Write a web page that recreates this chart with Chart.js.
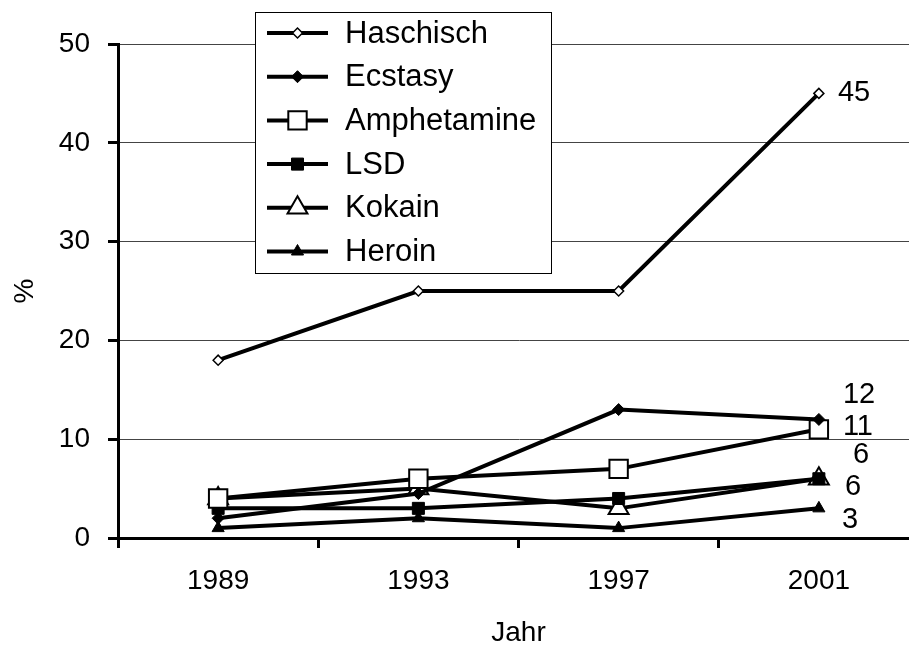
<!DOCTYPE html>
<html>
<head>
<meta charset="utf-8">
<script src="https://cdn.jsdelivr.net/npm/chart.js@4/dist/chart.umd.min.js"></script>
<style>
  html, body { margin: 0; padding: 0; background: #fff; overflow: hidden; }
  canvas { display: block; }
</style>
</head>
<body>
<canvas id="drugChart" width="934" height="650"></canvas>
<script>
(function(Chart){

    var years = ['1989', '1993', '1997', '2001'];

    var haschisch   = [18, 25, 25, 45];
    var ecstasy     = [2, 4.5, 13, 12];
    var amphetamine = [4, 6, 7, 11];
    var lsd         = [3, 3, 4, 6];
    var kokain      = [4, 5, 3, 6];
    var heroin      = [1, 2, 1, 3];

    var yTicks = [0, 10, 20, 30, 40, 50];

    var FONT = '"Liberation Sans", Arial, sans-serif';

    function series(label, data, style, radius, filled, borderWidth) {
        return {
            label: label,
            data: data,
            borderColor: '#000',
            borderWidth: 4,
            pointStyle: style,
            pointRadius: radius,
            pointHoverRadius: radius,
            pointBackgroundColor: filled ? '#000' : '#fff',
            pointBorderColor: '#000',
            pointBorderWidth: borderWidth,
            tension: 0
        };
    }

    var datasets = [
        series('Haschisch', haschisch, 'rectRot', 5, false, 1.5),
        series('Ecstasy', ecstasy, 'rectRot', 6, true, 1),
        series('Amphetamine', amphetamine, 'rect', 13, false, 2),
        series('LSD', lsd, 'rect', 8.5, true, 1),
        series('Kokain', kokain, 'triangle', 11.5, false, 2),
        series('Heroin', heroin, 'triangle', 7, true, 1)
    ];

    // where the value of the 2001 point gets written, relative to the point
    var endLabelShift = [
        { dx: 19, dy: 0 },
        { dx: 24, dy: -24 },
        { dx: 24, dy: -2 },
        { dx: 34, dy: -24 },
        { dx: 26, dy: 8 },
        { dx: 23, dy: 12 }
    ];

    var endLabels = {
        id: 'endLabels',
        afterDatasetsDraw: function(chart) {
            var ctx = chart.ctx;
            ctx.save();
            ctx.font = '29px ' + FONT;
            ctx.fillStyle = '#000';
            ctx.textAlign = 'left';
            ctx.textBaseline = 'middle';
            chart.data.datasets.forEach(function(ds, i) {
                var meta = chart.getDatasetMeta(i);
                var last = meta.data[meta.data.length - 1];
                var shift = endLabelShift[i];
                ctx.fillText(String(ds.data[ds.data.length - 1]), last.x + shift.dx, last.y + shift.dy);
            });
            ctx.restore();
        }
    };

    // boxed legend sitting over the upper left of the plot
    var boxLegend = {
        id: 'boxLegend',
        afterDraw: function(chart) {
            var ctx = chart.ctx;
            var left = 255, top = 12, width = 296, height = 261;
            var rowTop = 33, rowGap = 43.7;
            ctx.save();
            ctx.fillStyle = '#fff';
            ctx.fillRect(left, top, width, height);
            ctx.strokeStyle = '#000';
            ctx.lineWidth = 1;
            ctx.strokeRect(left + 0.5, top + 0.5, width, height);

            chart.data.datasets.forEach(function(ds, i) {
                var y = rowTop + i * rowGap;
                ctx.strokeStyle = '#000';
                ctx.lineWidth = 4;
                ctx.beginPath();
                ctx.moveTo(267, y);
                ctx.lineTo(328, y);
                ctx.stroke();

                ctx.fillStyle = ds.pointBackgroundColor;
                ctx.lineWidth = ds.pointBorderWidth;
                Chart.helpers.drawPoint(ctx, {
                    pointStyle: ds.pointStyle,
                    radius: ds.pointRadius,
                    rotation: 0,
                    borderWidth: ds.pointBorderWidth
                }, 297.5, y);

                ctx.fillStyle = '#000';
                ctx.font = '31px ' + FONT;
                ctx.textAlign = 'left';
                ctx.textBaseline = 'middle';
                ctx.fillText(ds.label, 345, y + 1);
            });
            ctx.restore();
        }
    };

    var ctx = document.getElementById('drugChart').getContext('2d');

    var chart = new Chart(ctx, {
        type: 'line',
        data: {
            labels: years,
            datasets: datasets
        },
        plugins: [endLabels, boxLegend],
        options: {
            responsive: false,
            animation: false,
            devicePixelRatio: 1,
            layout: {
                padding: { top: 44, right: 7, left: 0, bottom: 0 }
            },
            plugins: {
                legend: { display: false },
                tooltip: { enabled: false }
            },
            scales: {
                x: {
                    offset: true,
                    afterFit: function(scale) { scale.height = 112; },
                    grid: {
                        offset: true,
                        drawOnChartArea: false,
                        tickLength: 10,
                        tickWidth: 3,
                        tickColor: '#000'
                    },
                    border: { color: '#000', width: 3 },
                    ticks: {
                        color: '#000',
                        font: { family: FONT, size: 28 },
                        padding: 16,
                        maxRotation: 0
                    },
                    title: {
                        display: true,
                        text: 'Jahr',
                        color: '#000',
                        font: { family: FONT, size: 28 },
                        padding: { top: 0, bottom: 0 }
                    }
                },
                y: {
                    min: yTicks[0],
                    max: yTicks[yTicks.length - 1],
                    afterFit: function(scale) { scale.width = 118; },
                    afterBuildTicks: function(scale) {
                        scale.ticks = yTicks.map(function(v) { return { value: v }; });
                    },
                    grid: {
                        color: '#444',
                        lineWidth: 1,
                        tickLength: 10,
                        tickWidth: 3,
                        tickColor: '#000'
                    },
                    border: { color: '#000', width: 3 },
                    ticks: {
                        color: '#000',
                        font: { family: FONT, size: 28 },
                        padding: 18
                    },
                    title: {
                        display: true,
                        text: '%',
                        color: '#000',
                        font: { family: FONT, size: 28 },
                        padding: { top: 8, bottom: 0 }
                    }
                }
            }
        }
    });

})(Chart);
</script>
</body>
</html>
